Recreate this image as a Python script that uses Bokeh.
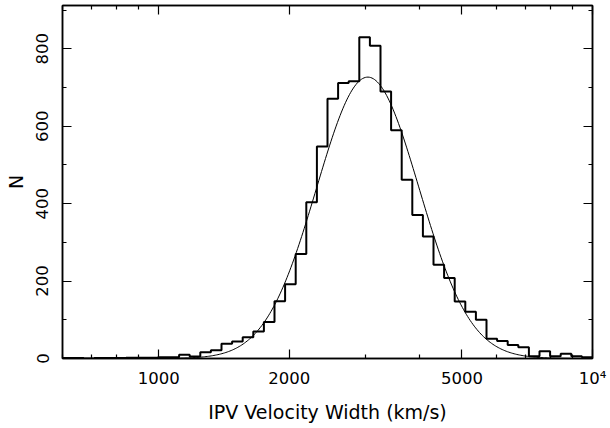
import math
import numpy as np
from bokeh.plotting import figure
from bokeh.models import FixedTicker, LogAxis, LinearAxis, CustomJSTickFormatter, Range1d
from bokeh.embed import file_html
from bokeh.resources import INLINE

# ---- data ----
# 50 logarithmic bins spanning 600 .. 10^4 km/s
bin_lo = 600.0
bin_hi = 10000.0
n_bins = 50
counts = [1, 1, 0, 1, 1, 1, 2, 2, 2, 3,
          3, 10, 5, 16, 21, 38, 44, 55, 70, 94,
          148, 192, 270, 404, 548, 671, 712, 716, 830, 808,
          690, 590, 462, 371, 315, 242, 208, 147, 121, 100,
          51, 45, 35, 29, 6, 19, 6, 12, 6, 3]

# Gaussian fit in log10(velocity width)
fit_peak = 727.0
fit_mu_log = 3.482
fit_sigma_log = 0.118

x_major = [1000, 2000, 5000, 10000]
x_minor = [600, 700, 800, 900, 3000, 4000, 6000, 7000, 8000, 9000]
y_major = [0, 200, 400, 600, 800]
y_minor = [100, 300, 500, 700, 900]

x_title = "IPV Velocity Width (km/s)"
y_title = "N"

# ---- derived geometry ----
edges = np.logspace(math.log10(bin_lo), math.log10(bin_hi), n_bins + 1)
step_x = list(edges)
step_y = list(counts) + [counts[-1]]

fit_x = np.logspace(math.log10(bin_lo), math.log10(bin_hi), 400)
fit_y = fit_peak * np.exp(-0.5 * ((np.log10(fit_x) - fit_mu_log) / fit_sigma_log) ** 2)

FONT = "DejaVu Sans"

p = figure(x_axis_type="log", x_range=Range1d(bin_lo, bin_hi), y_range=Range1d(0, 912),
           frame_width=530, frame_height=353,
           min_border_left=62, min_border_right=18, min_border_top=5, min_border_bottom=70,
           output_backend="svg", toolbar_location=None, tools="",
           background_fill_color="white", border_fill_color="white")
p.grid.visible = False
p.outline_line_color = "black"
p.outline_line_width = 1.5

p.step(step_x, step_y, mode="after", line_color="black", line_width=2)
p.line(fit_x, fit_y, line_color="black", line_width=1)

xt = FixedTicker(ticks=x_major, minor_ticks=x_minor)
yt = FixedTicker(ticks=y_major, minor_ticks=y_minor)
fmt = CustomJSTickFormatter(code="return tick >= 10000 ? '10\u2074' : tick.toFixed(0);")
blank = CustomJSTickFormatter(code="return '';")


def style(ax):
    ax.major_tick_in = 9
    ax.major_tick_out = 0
    ax.minor_tick_in = 4
    ax.minor_tick_out = 0
    ax.axis_line_color = "black"
    ax.axis_line_width = 1.5
    ax.major_tick_line_color = "black"
    ax.minor_tick_line_color = "black"
    ax.major_tick_line_width = 1.2
    ax.minor_tick_line_width = 1.2
    ax.major_label_text_font = FONT
    ax.major_label_text_font_size = "16.5px"
    ax.major_label_text_color = "black"
    ax.axis_label_text_font = FONT
    ax.axis_label_text_font_size = "19px"
    ax.axis_label_text_font_style = "normal"
    ax.axis_label_text_color = "black"


xa = p.xaxis[0]
xa.ticker = xt
xa.formatter = fmt
xa.axis_label = x_title
xa.major_label_standoff = 10
xa.axis_label_standoff = 10
style(xa)

ya = p.yaxis[0]
ya.ticker = yt
ya.axis_label = y_title
ya.major_label_orientation = "vertical"
ya.major_label_standoff = 14
ya.axis_label_standoff = 7
style(ya)

top = LogAxis(ticker=FixedTicker(ticks=x_major, minor_ticks=x_minor), formatter=blank)
style(top)
top.major_label_text_color = None
top.major_label_standoff = 0
top.major_label_text_font_size = "1px"
p.add_layout(top, "above")

right = LinearAxis(ticker=FixedTicker(ticks=y_major, minor_ticks=y_minor), formatter=blank)
style(right)
right.major_label_text_color = None
right.major_label_standoff = 0
right.major_label_text_font_size = "1px"
p.add_layout(right, "right")

open("out.html", "w").write(file_html(p, INLINE))
